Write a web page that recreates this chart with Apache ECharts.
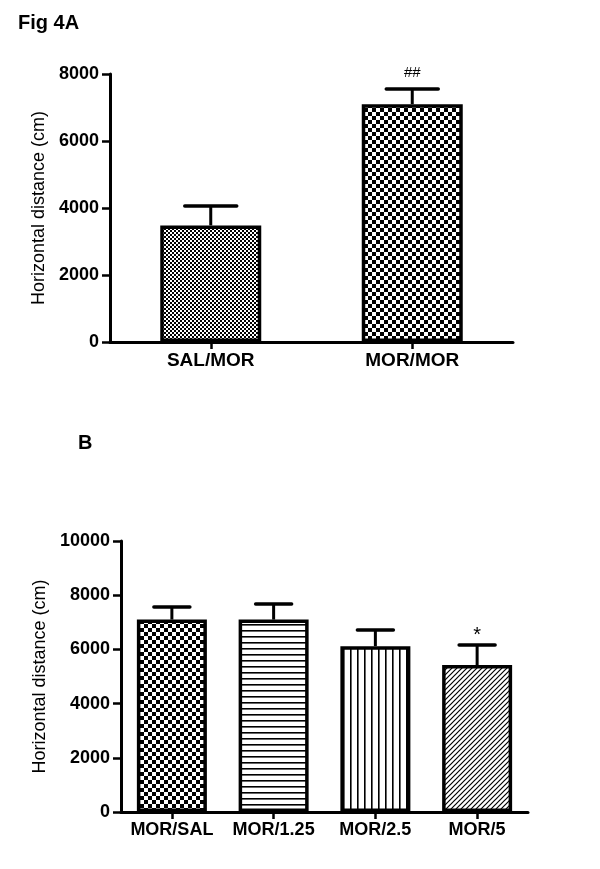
<!DOCTYPE html>
<html>
<head>
<meta charset="utf-8">
<script src="https://cdn.jsdelivr.net/npm/echarts@6/dist/echarts.min.js"></script>
<style>html,body{margin:0;padding:0;background:#fff;}#c{width:600px;height:869px;}</style>
</head>
<body>
<div id="c"></div>
<script>
// ---- data ----
const catsA = ['SAL/MOR', 'MOR/MOR'];
const meanA = [3480, 7100];
const semA = [580, 450];
const noteA = ['', '##'];
const ticksA = [0, 2000, 4000, 6000, 8000];

const catsB = ['MOR/SAL', 'MOR/1.25', 'MOR/2.5', 'MOR/5'];
const meanB = [7100, 7100, 6120, 5420];
const semB = [465, 575, 595, 740];
const noteB = ['', '', '', '*'];
const ticksB = [0, 2000, 4000, 6000, 8000, 10000];

const yTitle = 'Horizontal distance (cm)';
const FONT = '"Liberation Sans", Arial, Helvetica, sans-serif';

// ---- patterns ----
function tile(w, h, draw) {
  const c = document.createElement('canvas');
  c.width = w; c.height = h;
  const g = c.getContext('2d');
  g.fillStyle = '#fff'; g.fillRect(0, 0, w, h);
  g.fillStyle = '#000'; g.strokeStyle = '#000';
  draw(g, w, h);
  return { image: c, repeat: 'repeat' };
}
const checker = n => tile(2 * n, 2 * n, (g) => { g.fillRect(0, 0, n, n); g.fillRect(n, n, n, n); });
const hLines = tile(6, 6, (g) => { g.fillRect(0, 0, 6, 1.6); });
const vLines = tile(7, 7, (g) => { g.fillRect(0, 0, 1.6, 7); });
const diag = tile(5, 5, (g) => {
  g.lineWidth = 1.2;
  g.beginPath();
  g.moveTo(-1, 6); g.lineTo(6, -1);
  g.moveTo(-1, 1); g.lineTo(1, -1);
  g.moveTo(4, 6); g.lineTo(6, 4);
  g.stroke();
});
const fillA = [checker(2), checker(4)];
const fillB = [checker(4), hLines, vLines, diag];

const chart = echarts.init(document.getElementById('c'), null, { renderer: 'canvas' });

function errSeries(idx, means, sems, notes, capHalf, noteFont, noteOff) {
  return {
    type: 'custom', xAxisIndex: idx, yAxisIndex: idx, z: 5,
    data: means.map((m, i) => [i, m, m + sems[i]]),
    renderItem: function (params, api) {
      const i = api.value(0);
      const p0 = api.coord([i, api.value(1)]);
      const p1 = api.coord([i, api.value(2)]);
      const ch = [
        { type: 'line', shape: { x1: p0[0], y1: p0[1], x2: p1[0], y2: p1[1] }, style: { stroke: '#000', lineWidth: 3 } },
        { type: 'line', shape: { x1: p1[0] - capHalf, y1: p1[1], x2: p1[0] + capHalf, y2: p1[1] }, style: { stroke: '#000', lineWidth: 3.5, lineCap: 'round' } }
      ];
      if (notes[i]) {
        ch.push({ type: 'text', style: { text: notes[i], x: p1[0], y: p1[1] - noteOff, textAlign: 'center', textVerticalAlign: 'bottom', font: noteFont, fill: '#000' } });
      }
      return { type: 'group', children: ch };
    }
  };
}

function yAxis(idx, ticks, fs) {
  return {
    type: 'value', gridIndex: idx, min: ticks[0], max: ticks[ticks.length - 1], interval: ticks[1] - ticks[0],
    name: yTitle, nameLocation: 'middle', nameGap: idx === 0 ? 60 : 70,
    nameTextStyle: { fontFamily: FONT, fontSize: 18, color: '#000' },
    axisLine: { show: true, lineStyle: { color: '#000', width: 3 } },
    axisTick: { show: true, length: 8, lineStyle: { color: '#000', width: 2.5 } },
    axisLabel: { margin: 11, fontFamily: FONT, fontWeight: 'bold', fontSize: fs, color: '#000', formatter: v => String(v) },
    splitLine: { show: false }
  };
}
function xAxis(idx, cats, fs) {
  return {
    type: 'category', gridIndex: idx, data: cats,
    axisLine: { show: true, lineStyle: { color: '#000', width: 3 } },
    axisTick: { show: true, alignWithLabel: true, length: 7, lineStyle: { color: '#000', width: 2.5 } },
    axisLabel: { margin: 9, fontFamily: FONT, fontWeight: 'bold', fontSize: fs, color: '#000', interval: 0 }
  };
}

chart.setOption({
  animation: false,
  backgroundColor: '#fff',
  grid: [
    { left: 110, right: 87, top: 74, bottom: 527 },
    { left: 121, right: 72, top: 541, bottom: 57 }
  ],
  xAxis: [xAxis(0, catsA, 19), xAxis(1, catsB, 18)],
  yAxis: [yAxis(0, ticksA, 18), yAxis(1, ticksB, 18)],
  graphic: [
    { type: 'text', left: 18, top: 13, style: { text: 'Fig 4A', font: 'bold 20px ' + FONT, fill: '#000' } },
    { type: 'text', left: 78, top: 433, style: { text: 'B', font: 'bold 20px ' + FONT, fill: '#000' } }
  ],
  series: [
    {
      type: 'bar', xAxisIndex: 0, yAxisIndex: 0, barWidth: 101,
      data: meanA.map((v, i) => ({ value: v, itemStyle: { color: fillA[i] } })),
      itemStyle: { borderColor: '#000', borderWidth: 3.5 }
    },
    errSeries(0, meanA, semA, noteA, 26, '15px ' + FONT, 9),
    {
      type: 'bar', xAxisIndex: 1, yAxisIndex: 1, barWidth: 70,
      data: meanB.map((v, i) => ({ value: v, itemStyle: { color: fillB[i] } })),
      itemStyle: { borderColor: '#000', borderWidth: 3.5 }
    },
    errSeries(1, meanB, semB, noteB, 18, '20px ' + FONT, 0)
  ]
});
</script>
</body>
</html>
